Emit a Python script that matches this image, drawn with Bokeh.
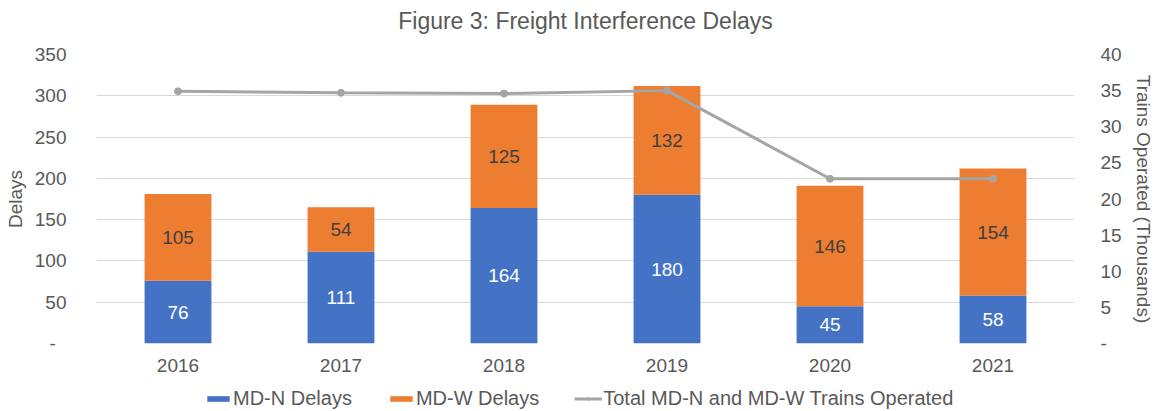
from bokeh.plotting import figure
from bokeh.layouts import column
from bokeh.models import (ColumnDataSource, Range1d, LinearAxis, CustomJSTickFormatter,
                          Legend, LegendItem, LabelSet, Title)
from bokeh.core.properties import value
from bokeh.embed import file_html
from bokeh.resources import INLINE

years = ["2016", "2017", "2018", "2019", "2020", "2021"]
mdn_delays = [76, 111, 164, 180, 45, 58]
mdw_delays = [105, 54, 125, 132, 146, 154]
trains_thousands = [34.9, 34.7, 34.6, 35.0, 22.8, 22.8]
delay_ticks = [0, 50, 100, 150, 200, 250, 300, 350]
train_ticks = [0, 5, 10, 15, 20, 25, 30, 35, 40]
series_names = ["MD-N Delays", "MD-W Delays", "Total MD-N and MD-W Trains Operated"]

FONT = "Liberation Sans"
GRAY = "#595959"
BLUE = "#4472C4"
ORANGE = "#ED7D31"
LINE = "#A5A5A5"

mdn_mid = [v / 2 for v in mdn_delays]
mdw_mid = [a + b / 2 for a, b in zip(mdn_delays, mdw_delays)]

src = ColumnDataSource(dict(year=years, mdn=mdn_delays, mdw=mdw_delays,
                            trains=trains_thousands, mdn_mid=mdn_mid, mdw_mid=mdw_mid,
                            mdn_txt=[str(v) for v in mdn_delays],
                            mdw_txt=[str(v) for v in mdw_delays]))

p = figure(x_range=years, y_range=Range1d(0, 350), width=1156, height=384,
           output_backend="svg", toolbar_location=None,
           min_border_left=96, min_border_right=76, min_border_top=54, min_border_bottom=41)
p.title = Title(text="Figure 3: Freight Interference Delays", align="center",
                text_font=FONT, text_font_size="23px", text_font_style="normal",
                text_color=GRAY)
p.add_layout(Title(text=" ", text_font_size="12px", standoff=0), "above")
p.outline_line_color = None
p.background_fill_color = "white"

p.extra_y_ranges = {"trains": Range1d(0, 40)}

r_bars = p.vbar_stack(["mdn", "mdw"], x="year", width=0.41, source=src,
                      color=[BLUE, ORANGE], line_color=None)

r_line = p.line(x="year", y="trains", source=src, y_range_name="trains",
                line_color=LINE, line_width=3)
r_pts = p.scatter(x="year", y="trains", source=src, y_range_name="trains",
                  size=7, fill_color=LINE, line_color=LINE)

p.add_layout(LabelSet(x="year", y="mdn_mid", text="mdn_txt", source=src,
                      text_align="center", text_baseline="middle",
                      text_font=value(FONT), text_font_size="19px", text_color="white"))
p.add_layout(LabelSet(x="year", y="mdw_mid", text="mdw_txt", source=src,
                      text_align="center", text_baseline="middle",
                      text_font=value(FONT), text_font_size="19px", text_color="#404040"))

fmt_left = CustomJSTickFormatter(code="return tick == 0 ? '-\u00a0\u00a0' : tick.toString();")
fmt_right = CustomJSTickFormatter(code="return tick == 0 ? '-' : tick.toString();")

yl = p.yaxis[0]
yl.ticker = delay_ticks
yl.formatter = fmt_left
yl.axis_label = "Delays"

yr = LinearAxis(y_range_name="trains", ticker=train_ticks, formatter=fmt_right,
                axis_label="Trains Operated (Thousands)")
p.add_layout(yr, "right")

for ax in [yl, yr, p.xaxis[0]]:
    ax.axis_line_color = None
    ax.major_tick_line_color = None
    ax.minor_tick_line_color = None
    ax.major_label_text_font = FONT
    ax.major_label_text_font_size = "19px"
    ax.major_label_text_color = GRAY
    ax.axis_label_text_font = FONT
    ax.axis_label_text_font_size = "19px"
    ax.axis_label_text_font_style = "normal"
    ax.axis_label_text_color = GRAY
yl.major_label_standoff = 24
yr.major_label_standoff = 20
yl.axis_label_standoff = 6
yr.axis_label_standoff = 8
p.xaxis[0].major_label_standoff = 9

p.xgrid.grid_line_color = None
p.ygrid.grid_line_color = "#D9D9D9"
p.ygrid.ticker = delay_ticks

# legend strip below the chart: same series, drawn below its visible range
lg = figure(width=1156, height=27, x_range=years, y_range=Range1d(400, 410),
            output_backend="svg", toolbar_location=None,
            x_axis_type=None, y_axis_type=None, min_border=0)
lg.outline_line_color = None
lg.grid.grid_line_color = None
lg.extra_y_ranges = {"trains": Range1d(45, 55)}
g_bars = lg.vbar_stack(["mdn", "mdw"], x="year", width=0.41, source=src,
                       color=[BLUE, ORANGE], line_color=None)
g_line = lg.line(x="year", y="trains", source=src, y_range_name="trains",
                 line_color=LINE, line_width=3)
g_pts = lg.scatter(x="year", y="trains", source=src, y_range_name="trains",
                   size=7, fill_color=LINE, line_color=LINE)
legend = Legend(items=[LegendItem(label=series_names[0], renderers=[g_bars[0]]),
                       LegendItem(label=series_names[1], renderers=[g_bars[1]]),
                       LegendItem(label=series_names[2], renderers=[g_line, g_pts])],
                orientation="horizontal", location=(108, 1),
                label_text_font=FONT, label_text_font_size="20px", label_text_color=GRAY,
                glyph_width=28, glyph_height=7, label_standoff=1, spacing=35,
                background_fill_alpha=0, border_line_color=None, padding=0, margin=0)
lg.add_layout(legend, "center")

open("out.html", "w").write(file_html(column(p, lg, spacing=0), INLINE))
